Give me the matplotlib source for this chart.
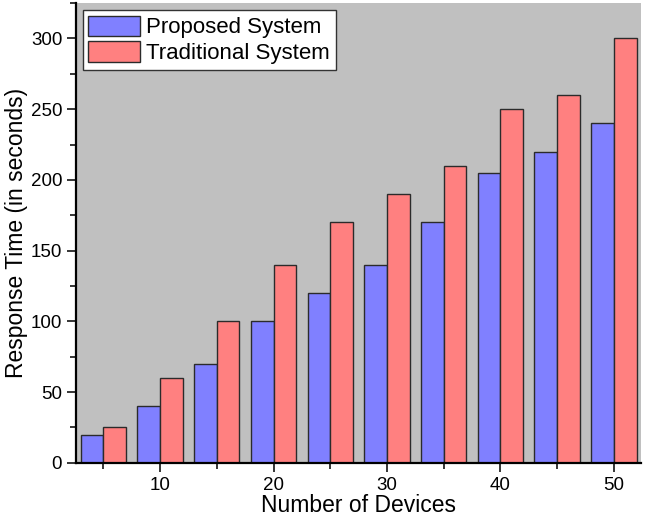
import numpy as np
import matplotlib
matplotlib.use('Agg')
import matplotlib.pyplot as plt
from matplotlib.ticker import MultipleLocator

plt.rcParams['font.family'] = ['Liberation Sans', 'DejaVu Sans']

# Response time vs number of devices
devices = [5, 10, 15, 20, 25, 30, 35, 40, 45, 50]
proposed = [20, 40, 70, 100, 120, 140, 170, 205, 220, 240]
traditional = [25, 60, 100, 140, 170, 190, 210, 250, 260, 300]

bar_w = 2.0
x = np.array(devices, dtype=float)

fig = plt.figure(figsize=(6.45, 5.2), dpi=100)
ax = fig.add_axes([0.118, 0.110, 0.876, 0.884])
ax.set_facecolor('#c0c0c0')

ax.bar(x - bar_w / 2, proposed, width=bar_w, color='#8080ff',
       edgecolor='#2b2b2b', linewidth=1.0, label='Proposed System', zorder=2)
ax.bar(x + bar_w / 2, traditional, width=bar_w, color='#ff8080',
       edgecolor='#2b2b2b', linewidth=1.0, label='Traditional System', zorder=2)

ax.set_xlim(2.6, 52.4)
ax.set_ylim(0, 325)

ax.xaxis.set_major_locator(MultipleLocator(10))
ax.xaxis.set_minor_locator(MultipleLocator(5))
ax.yaxis.set_major_locator(MultipleLocator(50))
ax.yaxis.set_minor_locator(MultipleLocator(25))

ax.tick_params(which='major', direction='out', length=6.5, width=1.1,
               labelsize=13.5, pad=3.5, color='black')
ax.tick_params(which='minor', direction='out', length=4.5, width=1.1,
               color='black')
ax.tick_params(axis='x', which='both', top=False)
ax.tick_params(axis='y', which='both', right=False)

for side in ['top', 'right']:
    ax.spines[side].set_visible(False)
for side in ['left', 'bottom']:
    ax.spines[side].set_linewidth(1.6)
    ax.spines[side].set_color('black')

ax.set_xlabel('Number of Devices', fontsize=16.5, labelpad=0)
ax.set_ylabel('Response Time (in seconds)', fontsize=16.5, labelpad=2)

leg = ax.legend(loc='upper left', bbox_to_anchor=(0.012, 0.985), fontsize=16,
                frameon=True, fancybox=False, framealpha=1, edgecolor='#333333',
                borderpad=0.25, labelspacing=0.12, handlelength=2.3,
                handleheight=1.05, handletextpad=0.3, borderaxespad=0)
leg.get_frame().set_linewidth(1.0)

fig.savefig('out.png', dpi=100, facecolor='white')
plt.close(fig)
